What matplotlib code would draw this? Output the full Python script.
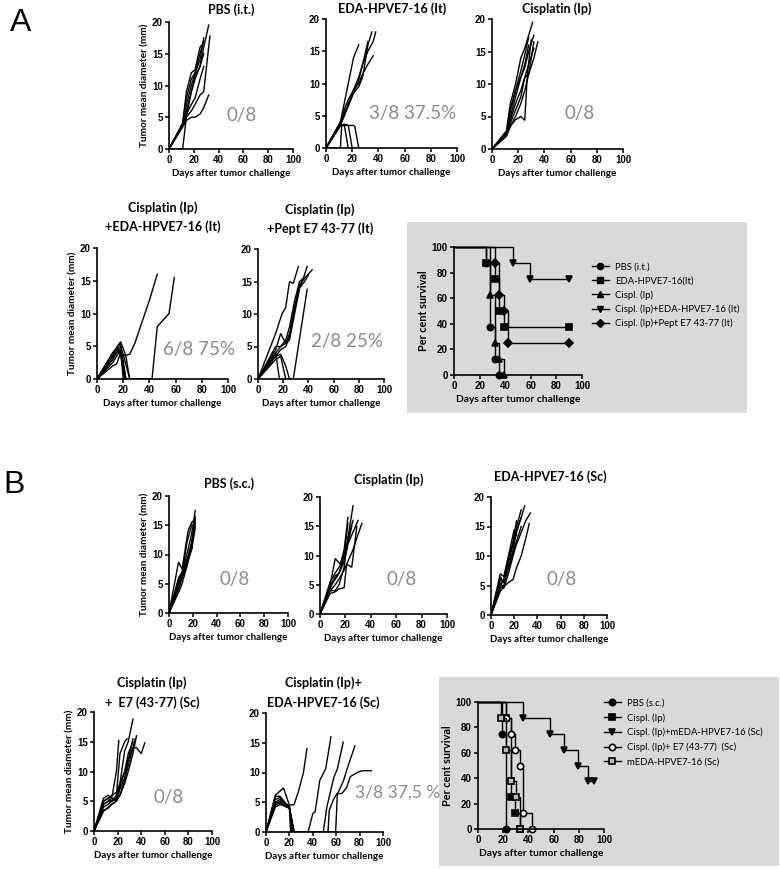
import matplotlib
matplotlib.use('Agg')
import matplotlib.pyplot as plt
from matplotlib.patches import Rectangle
from matplotlib.lines import Line2D

# ---------------- DATA ----------------
# Tumor growth: each mouse = (days, mean diameter mm)
a1_mice = [
    ([0, 11, 14, 18, 21, 25, 28], [0, 4, 8, 11, 12, 15, 17]),
    ([0, 11, 14, 18, 21, 25, 27], [0, 4, 9, 12, 12.5, 16, 16.5]),
    ([0, 11, 14, 18, 21, 25, 28], [0, 4, 7, 10, 12, 14, 17.5]),
    ([0, 11, 14, 18, 21, 25, 28, 32], [0, 3.8, 6, 9, 11, 13, 16, 19.5]),
    ([0, 11, 14, 18, 21, 25, 28, 33], [0, 3.5, 5, 6, 7, 8.5, 9, 17.8]),
    ([0, 11, 14, 18, 21, 25, 28, 32], [0, 3.5, 4.5, 5, 5, 5.5, 6.5, 8.5]),
    ([0, 11, 14, 18, 21, 25, 28], [0, 3.8, 5.5, 7, 8, 11, 13]),
    ([0, 11, 14, 18, 21, 25, 28], [0, 0, 5, 9, 11.5, 13, 15]),
]
a2_mice = [
    ([0, 11, 14, 17, 21, 24, 25], [0, 4, 7, 10, 14, 15.5, 16]),
    ([0, 11, 14, 17, 21, 25, 28, 32, 35], [0, 4, 5, 6.5, 8.5, 9.5, 11, 16, 18]),
    ([0, 11, 14, 17, 21, 25, 28, 32, 36, 38], [0, 3.5, 5, 7, 8.5, 10.5, 13, 15, 16.5, 18]),
    ([0, 11, 14, 17, 21, 25, 28, 32, 36], [0, 4, 5.5, 6.5, 9, 10, 11.5, 13, 14.3]),
    ([0, 11, 14, 17, 21, 25, 28, 32], [0, 3.5, 6, 7.5, 9, 11, 13, 16.5]),
    ([0, 11, 14, 17], [0, 3.5, 3.5, 0]),
    ([0, 11, 14, 17, 20], [0, 3.5, 3.7, 3.5, 0]),
    ([0, 11, 12, 16, 21, 22, 25], [0, 0, 3.5, 3.5, 3.5, 3.3, 0]),
]
a3_mice = [
    ([0, 11, 14, 18, 22, 25, 28, 31], [0, 2.8, 7, 10, 14, 15.5, 17.5, 19.5]),
    ([0, 11, 14, 18, 22, 25, 28], [0, 2.5, 6, 9, 12, 14.5, 17.2]),
    ([0, 11, 14, 18, 22, 25, 28, 32], [0, 2.5, 5, 8, 11, 12.5, 15, 17.5]),
    ([0, 11, 14, 18, 22, 25, 28, 32], [0, 2.2, 4, 6, 8, 11, 11.5, 16.5]),
    ([0, 11, 14, 18, 22, 25, 27, 30], [0, 2, 3.5, 4.5, 5, 4.4, 11.5, 16.8]),
    ([0, 11, 14, 18, 22, 25, 28, 32, 35], [0, 2, 3.5, 5, 7, 9, 11.5, 14, 16.5]),
    ([0, 11, 14, 18, 22, 25, 28], [0, 2.5, 6, 9, 11, 13, 16]),
    ([0, 11, 14, 18, 22, 25, 28, 32], [0, 2.2, 4.5, 7, 9, 11, 13, 15.5]),
]
a4_mice = [
    ([0, 12, 15, 18, 22], [0, 4, 4.5, 5.5, 0]),
    ([0, 12, 15, 18, 21, 25], [0, 3.5, 4, 5, 3, 0]),
    ([0, 12, 15, 18, 22], [0, 3, 4.8, 4, 0]),
    ([0, 12, 15, 18, 20], [0, 2.5, 3.5, 4.5, 0]),
    ([0, 12, 15, 18, 22, 25], [0, 2, 2.3, 4, 3.5, 0]),
    ([0, 12, 15, 18, 21], [0, 3.5, 4.5, 3.8, 0]),
    ([0, 12, 15, 18, 22, 25, 29, 34, 40, 46], [0, 4, 4.8, 5.7, 3.6, 3.8, 5.5, 8.5, 12, 16]),
    ([0, 12, 15, 18, 22, 42, 46, 55, 59], [0, 3, 4, 4.5, 0, 0, 8, 10, 15.5]),
]
a5_mice = [
    ([0, 14, 19, 22, 25, 28, 32], [0, 7, 10, 11, 15, 14.7, 17.3]),
    ([0, 14, 18, 22, 25, 29, 33, 36, 39], [0, 4.5, 7, 5.5, 6, 10, 14, 15.5, 17.3]),
    ([0, 14, 18, 22, 25, 29, 33, 37, 43], [0, 5, 5, 5.5, 7, 11, 14.5, 15.5, 16.8]),
    ([0, 14, 18, 22, 25, 29, 33, 36], [0, 4, 5, 6, 8, 12, 15, 15.5]),
    ([0, 14, 18, 22, 25, 29, 33, 37, 40], [0, 3.5, 4.5, 5, 6.5, 10.5, 14, 15, 16]),
    ([0, 14, 18, 22, 28, 32, 36, 39], [0, 3, 3.5, 0, 0, 5, 10, 13.8]),
    ([0, 14, 17], [0, 4, 0]),
    ([0, 14, 18, 22, 25], [0, 3.5, 3.8, 2, 0]),
]
b1_mice = [
    ([0, 8, 11, 16, 19, 22], [0, 8.7, 7.5, 14, 15.5, 16]),
    ([0, 8, 11, 15, 19, 22], [0, 6, 7, 10, 13.5, 17.5]),
    ([0, 8, 11, 15, 19, 22], [0, 5, 6.5, 9, 12, 16]),
    ([0, 8, 11, 15, 19, 22], [0, 4, 6, 8, 11, 15]),
    ([0, 8, 11, 15, 19, 22], [0, 5.5, 7, 8.5, 10.8, 14.5]),
    ([0, 8, 11, 15, 19, 22], [0, 4.5, 6, 9, 11, 16.5]),
    ([0, 8, 11, 15, 19, 22], [0, 3.5, 5, 8, 12, 15.5]),
    ([0, 8, 11, 15, 19], [0, 5, 6.5, 12, 15]),
]
b2_mice = [
    ([0, 8, 12, 16, 19, 22], [0, 5, 9.5, 8.5, 11, 16.5]),
    ([0, 8, 12, 15, 19, 22, 26], [0, 5, 6, 7, 10, 13, 18.5]),
    ([0, 8, 12, 15, 19, 22, 26], [0, 4, 4, 5, 8, 13, 16]),
    ([0, 8, 12, 15, 19, 21, 25, 29], [0, 3.5, 3.8, 4.3, 4.5, 8.5, 8, 15]),
    ([0, 8, 12, 15, 19, 22, 26, 30], [0, 4.5, 6, 7, 9, 12, 14, 16]),
    ([0, 8, 12, 15, 19, 22], [0, 5.5, 7, 8, 10, 15.5]),
    ([0, 8, 12, 15, 19, 22, 26, 29, 33], [0, 4, 5, 6, 7.5, 9, 11, 13, 15.5]),
    ([0, 8, 12, 15, 19, 22, 25], [0, 4.5, 6.5, 7, 9, 12, 15]),
]
b3_mice = [
    ([0, 8, 11, 15, 20, 22], [0, 7, 6.5, 10, 14.5, 13.5]),
    ([0, 8, 11, 15, 19, 22], [0, 6, 5.5, 9, 12.5, 16]),
    ([0, 8, 11, 15, 19, 22, 26], [0, 5, 6, 9.5, 12, 15, 17.8]),
    ([0, 8, 11, 15, 19, 22, 26, 29], [0, 4.5, 5, 8, 11, 14, 16.5, 18.5]),
    ([0, 8, 11, 15, 19, 22, 26, 30, 34], [0, 5.5, 4.5, 7, 10, 12, 14, 16, 17.3]),
    ([0, 8, 11, 15, 19, 22, 26, 30, 33], [0, 4, 4.8, 5.5, 6, 8, 10, 13, 15.5]),
    ([0, 8, 11, 15, 19, 22, 26], [0, 5, 6, 8, 10.5, 12.5, 15]),
    ([0, 8, 11, 15, 19, 22, 26], [0, 6.5, 5.5, 9, 12, 14.5, 16.5]),
]
b4_mice = [
    ([0, 8, 12, 15, 19, 21], [0, 5.5, 6, 5.5, 10, 15.2]),
    ([0, 8, 12, 15, 19, 22, 26, 28], [0, 5, 5.5, 5, 6, 13, 15, 15.5]),
    ([0, 8, 12, 15, 19, 22, 26, 29, 33], [0, 4.5, 5, 5.5, 5, 8, 13.5, 15, 18.8]),
    ([0, 8, 12, 15, 19, 22, 26, 29, 33, 36], [0, 4, 4.5, 5, 5.5, 6, 8, 10, 13, 16]),
    ([0, 8, 12, 15, 19, 22, 26, 29, 33], [0, 3.5, 3.8, 4.5, 5, 7, 9, 12, 15.5]),
    ([0, 8, 12, 15, 19, 22, 26, 29, 33, 36, 40, 43], [0, 5, 5.5, 6, 6.5, 8, 10, 12, 14, 14, 13, 14.8]),
    ([0, 8, 12, 15, 19, 22, 26, 29, 33], [0, 4.5, 5, 5, 5.5, 7.5, 10, 13, 15]),
    ([0, 8, 12, 15, 19, 22, 26, 29, 33, 35], [0, 3.3, 4, 4.5, 5, 6, 8.5, 11, 14, 15.5]),
]
b5_mice = [
    ([0, 8, 15, 20, 24, 28, 32, 35], [0, 6.2, 7.4, 4.5, 4.6, 7, 10, 14]),
    ([0, 8, 12, 16, 20, 23, 36, 40, 42, 46, 51, 55.5], [0, 5, 5.5, 4.8, 4.2, 0, 0, 3.1, 3.4, 8.7, 10.6, 16]),
    ([0, 8, 12, 16, 20, 24, 49, 52, 58, 61, 66], [0, 5.5, 5.8, 5, 4.2, 0, 0, 4.2, 9.2, 10.6, 15.1]),
    ([0, 8, 12, 16, 20, 24, 53, 54, 58, 62, 66, 70, 76], [0, 4.5, 5, 4.5, 4, 0, 0, 3.6, 5.6, 6.8, 8.5, 11, 14.5]),
    ([0, 8, 12, 16, 20, 24, 59.5, 61, 65, 69, 72, 78, 82, 90], [0, 5, 4.8, 4.3, 4, 0, 0, 6.4, 6.5, 7.5, 9.3, 10, 10.3, 10.3]),
    ([0, 8, 12, 16, 20, 22], [0, 6, 6, 5, 4.2, 0]),
    ([0, 8, 12, 16, 20, 23], [0, 4.8, 5.2, 4.5, 4.2, 0]),
    ([0, 8, 12, 16, 20, 21], [0, 4.2, 4.6, 4.4, 4, 0]),
]

# Survival (Kaplan-Meier) : times and per cent survival
kmA_labels = ["PBS (i.t.)", "EDA-HPVE7-16(It)", "Cispl. (Ip)",
              "Cispl. (Ip)+EDA-HPVE7-16 (It)", "Cispl. (Ip)+Pept E7 43-77 (It)"]
kmA_times = [[0, 25, 28, 32, 35],
             [0, 25, 32, 35, 39, 90],
             [0, 28, 32, 35, 39],
             [0, 46, 59, 90],
             [0, 32, 35, 39, 42, 90]]
kmA_surv = [[100, 87.5, 37.5, 12.5, 0],
            [100, 87.5, 75, 50, 37.5, 37.5],
            [100, 62.5, 25, 12.5, 0],
            [100, 87.5, 75, 75],
            [100, 87.5, 62.5, 50, 25, 25]]

kmB_labels = ["PBS (s.c.)", "Cispl. (Ip)", "Cispl. (Ip)+mEDA-HPVE7-16 (Sc)",
              "Cispl. (Ip)+ E7 (43-77)  (Sc)", "mEDA-HPVE7-16 (Sc)"]
kmB_times = [[0, 19, 22],
             [0, 22, 26, 29, 33],
             [0, 36, 57, 68, 79, 87, 92],
             [0, 22, 26, 29, 33, 36, 43],
             [0, 18, 22, 26, 30, 33]]
kmB_surv = [[100, 75, 0],
            [100, 87.5, 25, 12.5, 0],
            [100, 87.5, 75, 62.5, 50, 37.5, 37.5],
            [100, 87.5, 75, 62.5, 50, 12.5, 0],
            [100, 87.5, 62.5, 37.5, 25, 0]]

# ---------------- FIGURE ----------------
W, H = 780, 869
fig = plt.figure(figsize=(W / 100, H / 100), dpi=100)
fig.patch.set_facecolor('white')

TICKFONT = dict(family='Liberation Sans', weight='bold', size=7)
LABFONT = 'Lato'


def ax_px(x0, x1, y_top, y_bot):
    return fig.add_axes([x0 / W, 1 - y_bot / H, (x1 - x0) / W, (y_bot - y_top) / H])


def ftext(x, y, s, **kw):
    return fig.text(x / W, 1 - y / H, s, **kw)


def style_axes(ax, xlabel, ylabel, yticks, ylim):
    ax.set_xlim(0, 100)
    ax.set_ylim(*ylim)
    ax.set_xticks([0, 20, 40, 60, 80, 100])
    ax.set_yticks(yticks)
    for s in ['top', 'right']:
        ax.spines[s].set_visible(False)
    for s in ['left', 'bottom']:
        ax.spines[s].set_linewidth(1.2)
    ax.tick_params(direction='out', length=3, width=1.1, pad=1.5)
    for lab in ax.get_xticklabels() + ax.get_yticklabels():
        lab.set_fontfamily(TICKFONT['family'])
        lab.set_fontweight('bold')
        lab.set_fontsize(TICKFONT['size'])
    ax.set_xlabel(xlabel, family=LABFONT, weight='bold', fontsize=7, labelpad=3)
    if ylabel:
        ax.set_ylabel(ylabel, family=LABFONT, weight='bold', fontsize=7.2, labelpad=2)


def growth_panel(rect, mice, ylabel):
    ax = ax_px(*rect)
    for d, v in mice:
        ax.plot(d, v, color='black', lw=1.0, solid_joinstyle='miter')
    style_axes(ax, 'Days after tumor challenge',
               'Tumor mean diameter (mm)' if ylabel else None,
               [0, 5, 10, 15, 20], (0, 20))
    return ax


def km_panel(rect, times, surv, markers, facecolors):
    ax = ax_px(*rect)
    ax.patch.set_alpha(0)
    for t, s, m, fc in zip(times, surv, markers, facecolors):
        ax.step(t, s, where='post', color='black', lw=1.0, clip_on=False)
        ax.plot(t[1:], s[1:], linestyle='none', marker=m, ms=4.5,
                mfc=fc, mec='black', mew=1.2, clip_on=False)
    style_axes(ax, 'Days after tumor challenge', 'Per cent survival',
               [0, 20, 40, 60, 80, 100], (0, 100))
    ax.xaxis.label.set_fontsize(7.4)
    ax.yaxis.label.set_fontsize(7.8)
    return ax


TITLE = dict(family=LABFONT, weight='bold', fontsize=9, ha='center', va='center')
NOTE = dict(family=LABFONT, fontsize=13.5, color='#8a8a8a', va='center')

# gray boxes behind survival panels
fig.add_artist(Rectangle((407 / W, 1 - 413 / H), (747 - 407) / W, (413 - 222) / H,
                         transform=fig.transFigure, facecolor='#d9d9d9',
                         edgecolor='none', zorder=-5))
fig.add_artist(Rectangle((439 / W, 1 - 866 / H), (779 - 439) / W, (866 - 677) / H,
                         transform=fig.transFigure, facecolor='#d9d9d9',
                         edgecolor='none', zorder=-5))

# Panel letters
ftext(10, 23, 'A', family='Liberation Sans', fontsize=23, va='center', ha='left')
ftext(3, 485, 'B', family='Liberation Sans', fontsize=23, va='center', ha='left')

# ---- Panel A, row 1
growth_panel((169, 293, 22, 149), a1_mice, True)
ftext(231, 10, 'PBS (i.t.)', **TITLE)
ftext(242, 115, '0/8', ha='center', **NOTE)

growth_panel((326, 457, 19, 148), a2_mice, False)
ftext(392, 9, 'EDA-HPVE7-16 (It)', **TITLE)
ftext(413, 113, '3/8 37.5%', ha='center', **NOTE)

growth_panel((492, 623, 19, 149), a3_mice, False)
ftext(557, 9, 'Cisplatin (Ip)', **TITLE)
ftext(580, 113, '0/8', ha='center', **NOTE)

# ---- Panel A, row 2
growth_panel((97, 228, 248, 379), a4_mice, True)
ftext(163, 208, 'Cisplatin (Ip)', **TITLE)
ftext(163, 227, '+EDA-HPVE7-16 (It)', **TITLE)
ftext(199, 350, '6/8 75%', ha='center', **NOTE)

growth_panel((258, 384, 249, 379), a5_mice, False)
ftext(320, 210, 'Cisplatin (Ip)', **TITLE)
ftext(320, 229, '+Pept E7 43-77 (It)', **TITLE)
ftext(347, 342, '2/8 25%', ha='center', **NOTE)

axA = km_panel((454, 582, 247, 375), kmA_times, kmA_surv,
               ['o', 's', '^', 'v', 'D'], ['black'] * 5)
hA = [Line2D([], [], color='black', lw=1.0, marker=m, ms=4.5, mfc='black', mec='black')
      for m in ['o', 's', '^', 'v', 'D']]
fig.legend(hA, kmA_labels, loc='upper left', bbox_to_anchor=(588 / W, 1 - 259 / H),
           frameon=False, prop={'family': LABFONT, 'size': 6.8}, handlelength=1.8,
           handletextpad=0.7, labelspacing=0.5, borderaxespad=0)

# ---- Panel B, row 1
growth_panel((169, 288, 496, 613), b1_mice, True)
ftext(229, 484, 'PBS (s.c.)', **TITLE)
ftext(235, 580, '0/8', ha='center', **NOTE)

growth_panel((320, 447, 497, 614), b2_mice, False)
ftext(389, 480, 'Cisplatin (Ip)', **TITLE)
ftext(402, 580, '0/8', ha='center', **NOTE)

growth_panel((491, 607, 497, 615), b3_mice, False)
ftext(550, 477, 'EDA-HPVE7-16 (Sc)', **TITLE)
ftext(562, 580, '0/8', ha='center', **NOTE)

# ---- Panel B, row 2
growth_panel((94, 212, 712, 831), b4_mice, True)
ftext(152, 683, 'Cisplatin (Ip)', **TITLE)
ftext(152, 703, '+  E7 (43-77) (Sc)', **TITLE)
ftext(169, 798, '0/8', ha='center', **NOTE)

growth_panel((266, 383, 713, 832), b5_mice, False)
ftext(323, 683, 'Cisplatin (Ip)+', **TITLE)
ftext(323, 703, 'EDA-HPVE7-16 (Sc)', **TITLE)
ftext(355, 793, '3/8 37,5 %', ha='left', family=LABFONT, fontsize=12.5,
      color='#8a8a8a', va='center')

axB = km_panel((478, 604, 702, 829), kmB_times, kmB_surv,
               ['o', 's', 'v', 'o', 's'], ['black', 'black', 'black', 'white', '#bdbdbd'])
hB = [Line2D([], [], color='black', lw=1.0, marker=m, ms=4.5, mfc=fc, mec='black', mew=1.2)
      for m, fc in zip(['o', 's', 'v', 'o', 's'], ['black', 'black', 'black', 'white', '#bdbdbd'])]
fig.legend(hB, kmB_labels, loc='upper left', bbox_to_anchor=(600 / W, 1 - 695 / H),
           frameon=False, prop={'family': LABFONT, 'size': 6.8}, handlelength=1.8,
           handletextpad=0.7, labelspacing=0.55, borderaxespad=0)

fig.savefig('out.png', dpi=100, facecolor='white')
